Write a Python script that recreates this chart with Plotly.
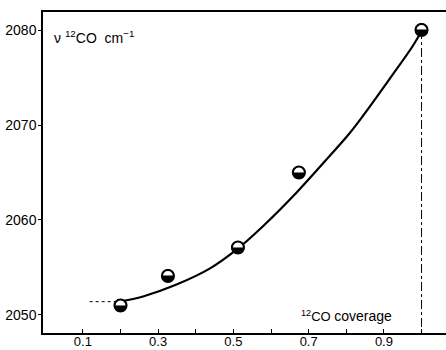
import plotly.graph_objects as go

# measured points (12CO coverage, wavenumber cm-1)
coverage = [0.2, 0.326, 0.512, 0.674, 1.0]
wavenumber = [2051.0, 2054.1, 2057.1, 2065.0, 2080.0]

# smooth curve
curve_x = [0.198, 0.26, 0.349, 0.438, 0.509, 0.58, 0.668, 0.739, 0.806, 0.845, 0.916, 0.978, 1.0]
curve_y = [2051.4, 2051.95, 2053.2, 2054.9, 2056.9, 2059.4, 2062.9, 2066.0, 2069.0, 2071.0, 2074.9, 2078.4, 2079.9]

# guide lines
hguide_x = [0.118, 0.2]
hguide_y = [2051.4, 2051.4]
vguide_x = [1.0, 1.0]
vguide_y = [2080.0, 2048.1]

xtick_vals = [0.1, 0.2, 0.3, 0.4, 0.5, 0.6, 0.7, 0.8, 0.9, 1.0]
xtick_text = ["0.1", "", "0.3", "", "0.5", "", "0.7", "", "0.9", ""]
ytick_vals = [2050, 2060, 2070, 2080]

FONT = "Liberation Sans, Arial, sans-serif"

fig = go.Figure()
fig.add_trace(go.Scatter(x=hguide_x, y=hguide_y, mode="lines",
                         line=dict(color="black", width=1, dash="dot"), hoverinfo="skip"))
fig.add_trace(go.Scatter(x=vguide_x, y=vguide_y, mode="lines",
                         line=dict(color="black", width=1, dash="dashdot"), hoverinfo="skip"))
fig.add_trace(go.Scatter(x=curve_x, y=curve_y, mode="lines", line_shape="spline",
                         line=dict(color="black", width=2.2, smoothing=1.0)))
fig.add_trace(go.Scatter(x=coverage, y=wavenumber, mode="markers",
                         marker=dict(symbol="circle", size=12, color="white",
                                     line=dict(color="black", width=2))))
fig.add_trace(go.Scatter(x=coverage, y=wavenumber, mode="text", text=["<b>◒</b>"] * len(coverage),
                         textfont=dict(family="DejaVu Sans", size=17, color="black"),
                         textposition="middle center"))

fig.update_layout(
    width=446, height=350,
    margin=dict(l=43, r=0, t=12, b=17),
    plot_bgcolor="white", paper_bgcolor="white",
    showlegend=False,
    font=dict(family=FONT, size=14, color="black"),
    xaxis=dict(range=[-0.006, 1.065], tickvals=xtick_vals, ticktext=xtick_text,
               ticks="inside", ticklen=4, tickcolor="black", showline=True, linecolor="black",
               linewidth=1.5, mirror=True, showgrid=False, zeroline=False, automargin=False,
               ticklabelstandoff=-4,
               tickfont=dict(family=FONT, size=13, color="black")),
    yaxis=dict(range=[2048.1, 2081.9], tickvals=ytick_vals,
               ticks="outside", ticklen=3, tickcolor="black", showline=True, linecolor="black",
               linewidth=1.5, showgrid=False, zeroline=False, automargin=False,
               ticklabelstandoff=-1,
               tickfont=dict(family=FONT, size=14, color="black")),
    annotations=[
        dict(x=0.025, y=2079.3, xref="x", yref="y", xanchor="left", yanchor="middle",
             text="ν <sup>12</sup>CO  cm<sup>−1</sup>", showarrow=False, xshift=-3,
             font=dict(family=FONT, size=14, color="black")),
        dict(x=0.682, y=2049.9, xref="x", yref="y", xanchor="left", yanchor="middle",
             text="<sup>12</sup>CO <span style='font-size:14px'>coverage</span>", showarrow=False,
             xshift=-3, font=dict(family=FONT, size=13, color="black")),
    ],
)

fig.write_html("out.html", config={"displayModeBar": False},
               post_script="document.body.style.margin='0';document.body.style.overflow='hidden';")
